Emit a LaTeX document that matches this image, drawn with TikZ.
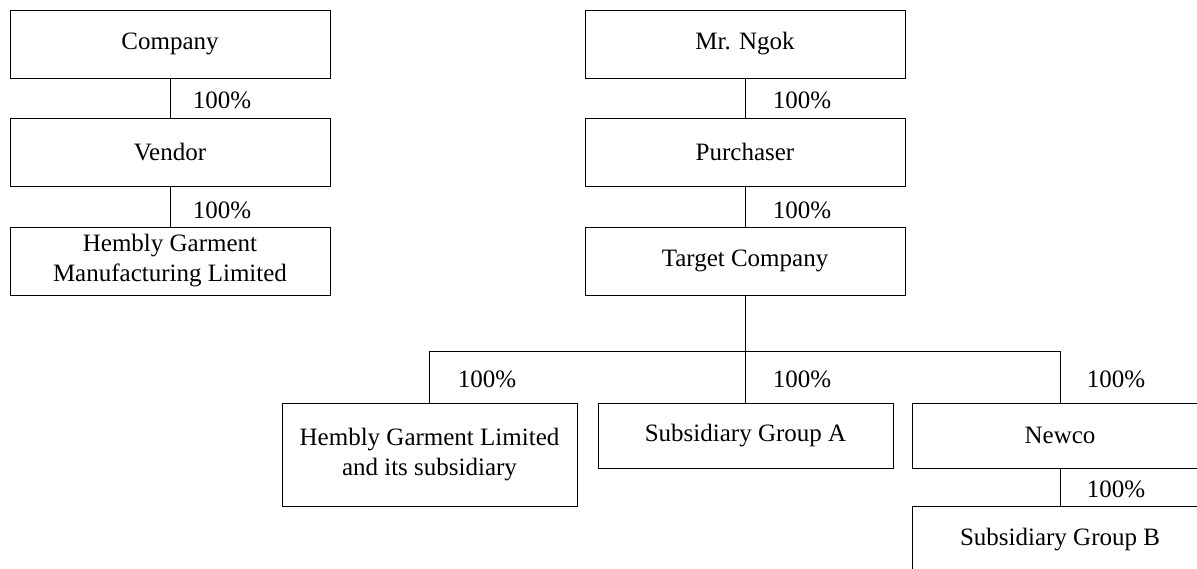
\documentclass[tikz,border=0pt]{standalone}
\usepackage{fontspec}
\setmainfont{Liberation Serif}
\begin{document}
\begin{tikzpicture}[x=1pt,y=-1pt,
  box/.style={draw, line width=1pt, minimum width=#1, inner sep=0pt, align=center,
    font=\fontsize{25}{30}\selectfont},
  box/.default=320pt,
  pct/.style={font=\fontsize{25}{30}\selectfont, inner sep=0pt},
  conn/.style={line width=1pt}]
\clip (0,0) rectangle (1197,568);
\fill[white] (0,0) rectangle (1197,568);
% left chain
\node[box, minimum height=68pt] (company) at (170,44) {Company};
\node[box, minimum height=68pt] (vendor) at (170,152) {Vendor};
\node[box, minimum height=68pt] (hgml) at (170,261) {Hembly Garment\\Manufacturing Limited};
% right chain
\node[box, minimum height=68pt] (ngok) at (745,44) {Mr. Ngok};
\node[box, minimum height=68pt] (purch) at (745,152) {Purchaser};
\node[box, minimum height=68pt] (target) at (745,261) {Target Company};
% bottom
\node[box=295pt, minimum height=103pt] (hgl) at (429.5,454.5) {Hembly Garment Limited\\and its subsidiary};
\node[box=295pt, minimum height=65pt] (sga) at (745.5,435.5) {Subsidiary Group A};
\node[box=296pt, minimum height=65pt] (newco) at (1060,435.5) {Newco};
\node[box=296pt, minimum height=68pt] (sgb) at (1060,540) {Subsidiary Group B};
\coordinate (bus) at (0,351);
% connectors
\draw[conn] (company) -- (vendor);
\draw[conn] (vendor) -- (hgml);
\draw[conn] (ngok) -- (purch);
\draw[conn] (purch) -- (target);
\draw[conn] (target.south) -- (target.south |- bus);
\draw[conn] (hgl.north) -- (hgl.north |- bus) -- (newco.north |- bus) -- (newco.north);
\draw[conn] (sga.north) -- (sga.north |- bus);
\draw[conn] (newco) -- (sgb);
% labels
\node[pct] (l1) at (222,100) {100\%};
\node[pct] (l2) at (222,210) {100\%};
\node[pct] (l3) at (802,100) {100\%};
\node[pct] (l4) at (802,210) {100\%};
\node[pct] (l5) at (487,379) {100\%};
\node[pct] (l6) at (802,379) {100\%};
\node[pct] (l7) at (1116,379) {100\%};
\node[pct] (l8) at (1116,489) {100\%};
\end{tikzpicture}
\end{document}
